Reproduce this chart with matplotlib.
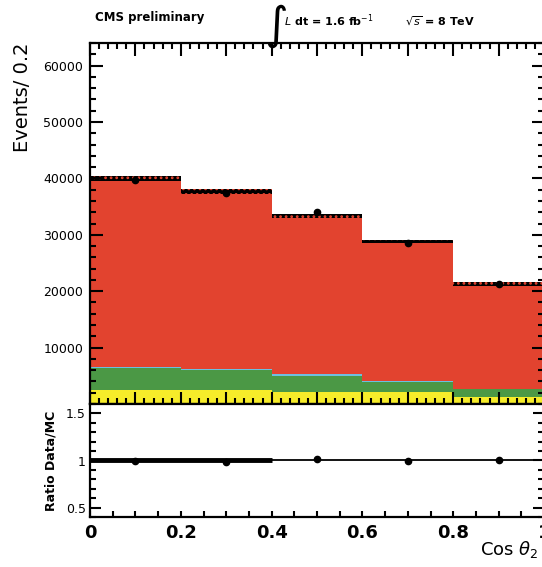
import matplotlib
matplotlib.use("Agg")
import matplotlib.pyplot as plt
from matplotlib.ticker import MultipleLocator, NullFormatter, FixedLocator
import numpy as np

# ---- data ----
bin_edges = [0.0, 0.2, 0.4, 0.6, 0.8, 1.0]
bin_centers = [0.1, 0.3, 0.5, 0.7, 0.9]
yellow_vals = [2480, 2480, 2120, 2120, 1240]
green_vals = [3840, 3480, 2880, 1830, 1360]
cyan_vals = [280, 250, 250, 40, 30]
red_vals = [33400, 31490, 28110, 24770, 18610]
mc_err = [500, 450, 380, 300, 350]
data_vals = [39800, 37350, 33980, 28500, 21240]
data_err = [200, 190, 185, 170, 150]
ratio_vals = [0.99, 0.98, 1.02, 0.99, 1.00]
ratio_err = [0.006, 0.006, 0.006, 0.006, 0.007]
main_yticks = [10000, 20000, 30000, 40000, 50000, 60000]
ratio_yticks = [0.5, 1, 1.5]
ratio_xticks = [0, 0.2, 0.4, 0.6, 0.8, 1.0]
ratio_xticklabels = ["0", "0.2", "0.4", "0.6", "0.8", "1"]

W, H = 542, 567
fig = plt.figure(figsize=(W / 100, H / 100), dpi=100)

def fx(px):
    return px / W

def fy(py):
    return 1 - py / H

left, right = 90, 544
ax = fig.add_axes([fx(left), fy(404), fx(right - left), fy(43) - fy(404)])
axr = fig.add_axes([fx(left), fy(517), fx(right - left), fy(404) - fy(517)])

RED = "#e2432f"
GREEN = "#4b9845"
YELLOW = "#f6ec2a"
CYAN = "#6cbfe0"

widths = np.diff(bin_edges)
bottom = np.zeros(5)
for vals, col in [(yellow_vals, YELLOW), (green_vals, GREEN), (cyan_vals, CYAN), (red_vals, RED)]:
    ax.bar(bin_centers, vals, width=widths, bottom=bottom, color=col, linewidth=0, align="center")
    bottom = bottom + np.array(vals)

total = bottom
plt.rcParams["hatch.linewidth"] = 1.2
ax.bar(bin_centers, 2 * np.array(mc_err), width=widths, bottom=total - np.array(mc_err),
       facecolor="black", edgecolor=RED, hatch="...", linewidth=0)

ax.errorbar(bin_centers, data_vals, yerr=data_err, fmt="o", color="black", ms=4.5, elinewidth=1, capsize=0)

ax.set_xlim(0, 1.0)
ax.set_ylim(0, 64000)
ax.xaxis.set_major_locator(MultipleLocator(0.1))
ax.xaxis.set_minor_locator(MultipleLocator(0.02))
ax.xaxis.set_major_formatter(NullFormatter())
ax.yaxis.set_major_locator(FixedLocator(main_yticks))
ax.yaxis.set_minor_locator(MultipleLocator(2000))
ax.set_yticklabels([str(v) for v in main_yticks])
ax.tick_params(which="both", direction="in", top=True, right=True, width=1.5)
ax.tick_params(which="major", length=9)
ax.tick_params(which="minor", length=4.5)
ax.tick_params(axis="y", labelsize=9, pad=5)
for s in ax.spines.values():
    s.set_linewidth(1.6)
ax.set_ylabel("Events/ 0.2", fontsize=14, loc="top", labelpad=8)

# ratio panel
axr.axhline(1.0, color="black", lw=1.3)
axr.hlines(1.0, 0, 0.4, color="black", lw=3.5)
axr.errorbar(bin_centers, ratio_vals, yerr=ratio_err, fmt="o", color="black", ms=4.5, elinewidth=1, capsize=0)
axr.set_xlim(0, 1.0)
axr.set_ylim(0.4, 1.6)
axr.xaxis.set_major_locator(FixedLocator(ratio_xticks))
axr.set_xticklabels(ratio_xticklabels)
axr.xaxis.set_minor_locator(MultipleLocator(0.05))
axr.yaxis.set_major_locator(FixedLocator(ratio_yticks))
axr.set_yticklabels(["0.5", "1", "1.5"])
axr.yaxis.set_minor_locator(MultipleLocator(0.1))
axr.tick_params(which="both", direction="in", right=True, width=1.5)
axr.tick_params(axis="y", which="major", length=8, labelsize=9, pad=3)
axr.tick_params(axis="y", which="minor", length=4.5)
axr.tick_params(axis="x", which="both", length=4)
axr.tick_params(axis="x", labelsize=13, pad=5)
for lab in axr.get_xticklabels():
    lab.set_fontweight("bold")
for s in axr.spines.values():
    s.set_linewidth(1.6)
axr.set_ylabel("Ratio Data/MC", fontsize=9, fontweight="bold", labelpad=6)

fig.text(fx(480), fy(550), r"Cos $\theta_{2}$", fontsize=13, ha="left", va="center")

# header
fig.text(fx(95), fy(17), "CMS preliminary", fontsize=8.5, fontweight="bold", ha="left", va="center")
fig.text(fx(264), fy(2), r"$\int$", fontsize=23, ha="left", va="top")
fig.text(fx(284), fy(21), r"$\mathit{L}$ dt = 1.6 fb$^{-1}$", fontsize=8, fontweight="bold", ha="left", va="center")
fig.text(fx(405), fy(21), r"$\sqrt{s}$ = 8 TeV", fontsize=8, fontweight="bold", ha="left", va="center")

fig.savefig("out.png", dpi=100)
